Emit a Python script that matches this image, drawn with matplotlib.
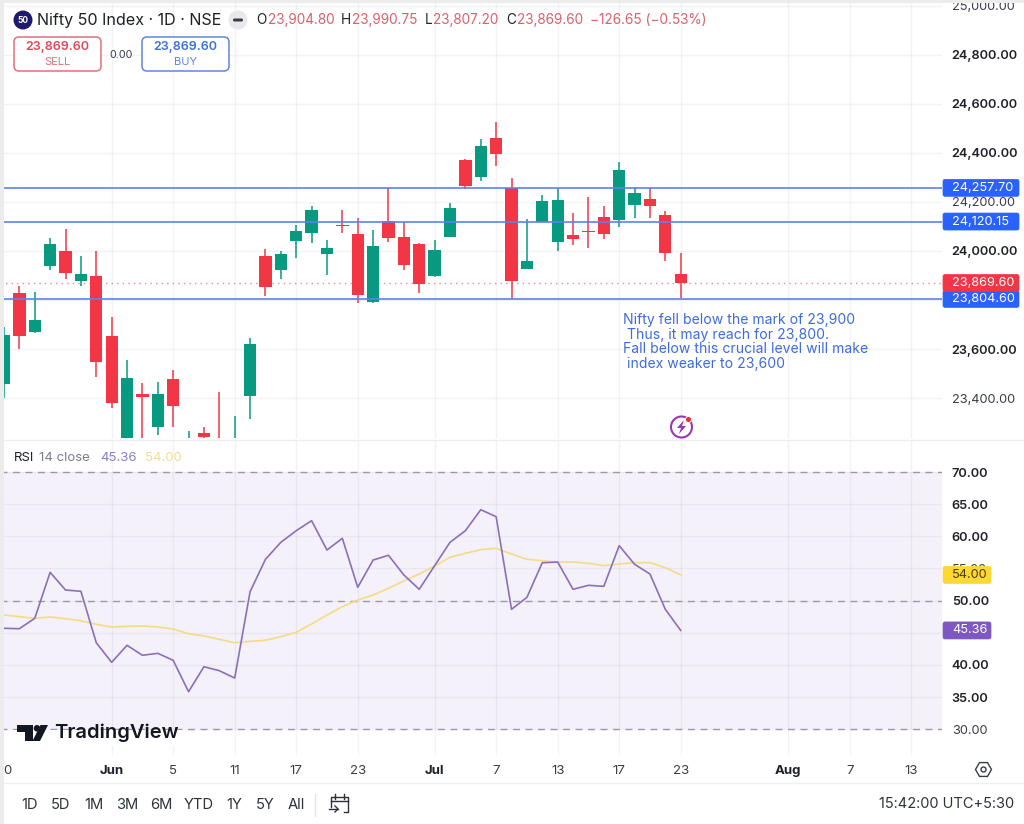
import numpy as np
import matplotlib
matplotlib.use("Agg")
import matplotlib.pyplot as plt
from matplotlib.patches import Circle, FancyBboxPatch, Polygon, Rectangle, RegularPolygon

plt.rcParams["font.family"] = ["Inter", "DejaVu Sans"]

# Daily candles (several run past the bottom of the pane)
opens = [23456, 23827, 23668, 23939, 24001, 23878, 23899, 23652, 23208, 23417, 23281, 23478,
         23147, 23259, 23233, 23127, 23410, 23981, 23921, 24042, 24073, 23989, 24108, 24069,
         23793, 24122, 24058, 24030, 23897, 24058, 24372, 24303, 24462, 24256, 23928, 24120,
         24038, 24065, 24083, 24139, 24126, 24188, 24213, 24147, 23904.80]
highs = [23690, 23857, 23834, 24053, 24089, 23980, 24001, 23732, 23555, 23460, 23464, 23514,
         23267, 23281, 23424, 23327, 23644, 24007, 24000, 24106, 24184, 24045, 24167, 24133,
         24086, 24256, 24120, 24033, 24045, 24195, 24374, 24456, 24528, 24297, 24131, 24227,
         24256, 24154, 24219, 24184, 24364, 24262, 24256, 24163, 23990.75]
lows = [23400, 23600, 23666, 23922, 23885, 23858, 23485, 23361, 23147, 23188, 23249, 23283,
        23106, 23233, 23188, 23086, 23315, 23818, 23886, 23970, 24034, 23902, 24072, 23787,
        23789, 24038, 23922, 23830, 23895, 24056, 24253, 24286, 24347, 23803, 23926, 24118,
        23999, 24024, 24011, 24050, 24099, 24136, 24133, 23960, 23807.20]
closes = [23657, 23653, 23718, 24029, 23911, 23905, 23546, 23380, 23483, 23403, 23415, 23366,
          23208, 23240, 23208, 23221, 23621, 23852, 23987, 24082, 24167, 24011, 24102, 23820,
          24020, 24052, 23944, 23864, 24004, 24174, 24265, 24428, 24396, 23878, 23959, 24204,
          24208, 24049, 24076, 24069, 24330, 24235, 24184, 23993, 23869.60]

rsi_values = [45.70, 45.63, 47.25, 54.40, 51.65, 51.45, 43.45, 40.40, 43.05, 41.50, 41.80, 40.72,
              35.83, 39.72, 39.10, 37.96, 51.38, 56.42, 59.07, 60.87, 62.43, 57.87, 59.69, 52.07,
              56.31, 57.05, 53.98, 51.76, 55.43, 59.07, 60.87, 64.14, 63.05, 48.65, 50.51, 55.89,
              56.00, 51.76, 52.38, 52.22, 58.54, 55.65, 54.14, 48.65, 45.36]
rsi_ma = [47.76, 47.50, 47.25, 47.45, 47.19, 46.87, 46.31, 45.90, 46.00, 46.05, 45.90, 45.58,
          44.85, 44.50, 43.98, 43.45, 43.67, 43.83, 44.39, 45.07, 46.36, 47.76, 49.05, 50.10,
          50.87, 51.91, 53.05, 54.14, 55.38, 56.73, 57.36, 57.92, 58.13, 57.25, 56.42, 56.21,
          56.00, 56.00, 55.80, 55.43, 55.70, 55.90, 55.90, 55.12, 54.00]

levels = [24257.70, 24120.15, 23804.60]
last_price = 23869.60

# 23,800 and 45.00 sit fully behind their price tags in the reference, so they get no label
price_ticks = [25000, 24800, 24600, 24400, 24200, 24000, 23800, 23600, 23400]
price_hidden = [23800]
price_bold = [24800, 24600, 24400, 24000, 23600]
rsi_ticks = [70, 65, 60, 55, 50, 45, 40, 35, 30]
rsi_hidden = [45]
rsi_bold = [70, 65, 60, 50, 40, 35]

date_pos = [0.2, 7, 11, 15, 19, 23, 28, 32, 36, 40, 44, 51, 55, 59]
date_labels = ["0", "Jun", "5", "11", "17", "23", "Jul", "7", "13", "17", "23", "Aug", "7", "13"]
range_labels = ["1D", "5D", "1M", "3M", "6M", "YTD", "1Y", "5Y", "All"]
range_x = [29, 60, 94, 127, 161, 199, 234, 265, 296]

note = ("Nifty fell below the mark of 23,900\n"
        " Thus, it may reach for 23,800.\n"
        "Fall below this crucial level will make\n"
        " index weaker to 23,600")

RED = "#f23645"
GREEN = "#089981"
BLUE = "#2962ff"
LINE_BLUE = "#5c82ea"
PURPLE = "#7e57c2"
YELLOW = "#fdd835"
DARK = "#1f2129"

W, H = 1024, 824
RIGHT = 942
fig = plt.figure(figsize=(W / 100, H / 100), dpi=100, facecolor="white")


def pane(top, bottom):
    return fig.add_axes([0, 1 - bottom / H, RIGHT / W, (bottom - top) / H])


ax = pane(0, 438)
rsi = pane(440, 755)
x = np.arange(len(opens))
xlim = (-0.26, 60.99)

# Price pane
opens_a, closes_a = np.array(opens), np.array(closes)
colors = [GREEN if c > o else RED for o, c in zip(opens, closes)]
ax.vlines(x, lows, highs, colors=colors, lw=1.1, zorder=3)
ax.bar(x, np.abs(closes_a - opens_a), bottom=np.minimum(opens_a, closes_a), width=0.8,
       color=colors, zorder=3)
for lv in levels:
    ax.axhline(lv, color=LINE_BLUE, lw=1.2, zorder=4)
ax.axhline(last_price, color=RED, lw=1, ls=(0, (1, 3)), alpha=0.6, zorder=2)
ax.set(xlim=xlim, ylim=(23237, 25024))

# RSI pane
rsi.axhspan(30, 70, color=PURPLE, alpha=0.08, lw=0, zorder=1)
for lv in [70, 50, 30]:
    rsi.axhline(lv, color="#9a9ba6", lw=1, ls=(0, (5, 4)), zorder=2)
rsi.plot(x, rsi_ma, color="#f3dc85", lw=1.2, zorder=3)
rsi.plot(x, rsi_values, color="#8a70b8", lw=1.2, zorder=4)
rsi.set(xlim=xlim, ylim=(25.99, 74.98))

for a, ticks, hidden, bold, fmt in [(ax, price_ticks, price_hidden, price_bold, "{:,.2f}"),
                                    (rsi, rsi_ticks, rsi_hidden, rsi_bold, "{:.2f}")]:
    a.yaxis.tick_right()
    a.set_yticks(ticks)
    a.set_yticklabels(["" if t in hidden else fmt.format(t) for t in ticks])
    for t, lab in zip(ticks, a.get_yticklabels()):
        lab.set_fontweight("semibold" if t in bold else "normal")
        lab.set_color(DARK if t in bold else "#3a3d48")
    a.tick_params(axis="y", length=0, pad=7, labelsize=9.2)
    a.set_xticks(date_pos)
    a.grid(True, color="#787b96", alpha=0.09, lw=1)
    a.get_xgridlines()[0].set_visible(False)
    a.set_axisbelow(True)
    for s in a.spines.values():
        s.set_visible(False)

ax.tick_params(axis="x", length=0, labelbottom=False)
rsi.set_xticklabels(date_labels)
rsi.tick_params(axis="x", length=0, pad=7, labelsize=9.5, labelcolor="#3a3d48")
for lab in rsi.get_xticklabels():
    if lab.get_text() in ("Jun", "Jul", "Aug"):
        lab.set_fontweight("bold")
        lab.set_color(DARK)

# Overlay in pixel coordinates for the platform chrome
ui = fig.add_axes([0, 0, 1, 1], zorder=10)
ui.set(xlim=(0, W), ylim=(H, 0))
ui.axis("off")
ui.patch.set_alpha(0)


def label(px, py, s, color=DARK, size=9.5, weight="normal", ha="left", **kw):
    ui.text(px, py, s, color=color, fontsize=size, fontweight=weight, ha=ha, va="center", **kw)


def tag(a, value, text, bg, fg="white", width=76):
    py = H - a.transData.transform((0, value))[1]
    ui.add_patch(FancyBboxPatch((943, py - 8.5), width, 17, boxstyle="round,pad=0,rounding_size=2",
                                fc=bg, ec=bg, lw=0.5, zorder=5))
    label(952, py, text, color=fg, size=9.2, zorder=6)


ui.add_patch(Rectangle((0, 0), 4, H, fc="#ececec", lw=0))
ui.add_patch(Rectangle((0, 0), W, 3, fc="#ececec", lw=0))
ui.plot([4, W], [439.5, 439.5], color="#ededf0", lw=1)
ui.plot([4, W], [783, 783], color="#efeff2", lw=1)

for lv in levels:
    tag(ax, lv, f"{lv:,.2f}", BLUE)
tag(ax, last_price, f"{last_price:,.2f}", RED)
tag(rsi, rsi_ma[-1], f"{rsi_ma[-1]:.2f}", YELLOW, fg="#4a3f10", width=48)
tag(rsi, rsi_values[-1], f"{rsi_values[-1]:.2f}", PURPLE, width=48)

# Header
ui.add_patch(Circle((23, 20), 9.5, fc="#1e1b6e", lw=0))
label(23, 20, "50", color="white", size=6, weight="bold", ha="center")
label(37, 20, "Nifty 50 Index · 1D · NSE", color=DARK, size=11.6)
ui.add_patch(Circle((238, 20), 9.5, fc="#e9e9ec", lw=0))
ui.add_patch(FancyBboxPatch((233, 18.5), 10, 3, boxstyle="round,pad=0,rounding_size=1.5", fc="#3a3d48", lw=0))
VAL = "#d9606c"
for px, s, c in [(256, "O", DARK), (268, "23,904.80", VAL), (341, "H", DARK), (352, "23,990.75", VAL),
                 (425, "L", DARK), (433, "23,807.20", VAL), (506, "C", DARK), (517, "23,869.60", VAL),
                 (590, "−126.65 (−0.53%)", VAL)]:
    label(px, 20, s, color=c, size=9.8)

for left, edge, price_col, word in [(14, "#e2707c", "#e0495a", "SELL"), (142, "#5f86e0", "#3f6fdc", "BUY")]:
    ui.add_patch(FancyBboxPatch((left, 37), 87, 34, boxstyle="round,pad=0,rounding_size=5",
                                fc="white", ec=edge, lw=1.1))
    label(left + 43.5, 47, "23,869.60", color=price_col, size=9, weight="semibold", ha="center")
    label(left + 43.5, 61.5, word, color=edge, size=8, ha="center")
label(121, 54.5, "0.00", color="#3a3d48", size=7.8, ha="center")

# Note and the small alert icon
ui.text(623, 342, note, color="#3f6be0", fontsize=10.1, va="center", ha="left", linespacing=1.07)
ui.add_patch(Circle((681.5, 427), 10.5, fc="white", ec="#9c35b5", lw=1.5))
ui.add_patch(Polygon([(684, 420), (677, 428), (681, 428), (679, 434), (686, 426), (682, 426)], fc="#9c35b5", lw=0))
ui.add_patch(Circle((688.5, 419.5), 3, fc="#e5303c", ec="white", lw=0.6))

# RSI legend
label(14, 457.5, "RSI", color=DARK, size=9.5)
label(39, 457.5, "14 close", color="#7c7f8a", size=9.5)
label(100, 457.5, f"{rsi_values[-1]:.2f}", color="#8f7cc6", size=9.5)
label(145, 457.5, f"{rsi_ma[-1]:.2f}", color="#f0df90", size=9.5)

# TradingView logo
ui.add_patch(Rectangle((13, 729.5), 170, 16, fc="white", lw=0, zorder=1))
ui.add_patch(Polygon([(17, 725), (33, 725), (33, 741), (25, 741), (25, 732), (17, 732)], fc="#131722", lw=0, zorder=2))
ui.add_patch(Circle((37, 728.3), 3.3, fc="#131722", lw=0, zorder=2))
ui.add_patch(Polygon([(40.5, 725), (48, 725), (40, 741), (32.5, 741)], fc="#131722", lw=0, zorder=2))
label(54.5, 733, "TradingView", color="#131722", size=14.5, weight="semibold", zorder=2)

# Footer
for px, s in zip(range_x, range_labels):
    label(px, 805, s, color="#2f323c", size=10.6, ha="center")
ui.plot([315, 315], [794, 816], color="#e4e4e8", lw=1)
ui.plot([344, 348, 348, 344], [797, 797, 812, 812], color="#2f323c", lw=1)
ui.plot([334, 331, 331], [797, 797, 807], color="#2f323c", lw=1)
ui.plot([334, 344], [797, 797], color="#2f323c", lw=1)
ui.plot([331, 348], [801, 801], color="#2f323c", lw=1)
ui.plot([335, 335], [794, 799], color="#2f323c", lw=1)
ui.plot([344, 344], [794, 799], color="#2f323c", lw=1)
ui.plot([329, 338], [809, 809], color="#2f323c", lw=1)
ui.plot([335, 338, 335], [806, 809, 812], color="#2f323c", lw=1)
label(1014, 804, "15:42:00 UTC+5:30", color="#2f323c", size=10.5, ha="right")

ui.add_patch(RegularPolygon((983.5, 769.5), 6, radius=8, orientation=np.pi / 6, fc="white", ec="#3a3d48", lw=1))
ui.add_patch(Circle((983.5, 769.5), 2.5, fc="white", ec="#3a3d48", lw=1))

fig.savefig("out.png", dpi=100)
